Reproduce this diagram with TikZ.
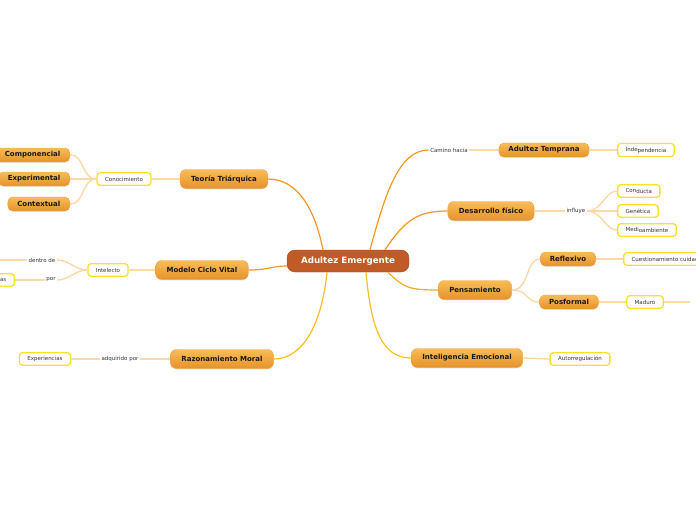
\documentclass[tikz,border=0pt]{standalone}
\usepackage{fontspec}
\setmainfont{DejaVu Sans}
\usetikzlibrary{positioning,shadows}
\definecolor{centerfill}{HTML}{C05A26}
\definecolor{topiclight}{HTML}{F8BC58}
\definecolor{topicdark}{HTML}{E5922A}
\definecolor{topicedge}{HTML}{F0A040}
\definecolor{leafyellow}{HTML}{FBE02A}
\definecolor{textgray}{HTML}{333333}
\definecolor{branchorange}{HTML}{F7961E}
\definecolor{branchyellow}{HTML}{FBBD26}
\definecolor{twigorange}{HTML}{FCD8A8}

\begin{document}
\begin{tikzpicture}[x=1pt, y=-1pt,
    central/.style={rectangle, rounded corners=8pt, fill=centerfill, draw=centerfill!85!black,
        text=white, font=\fontsize{8.7}{10}\selectfont\bfseries,
        minimum width=122pt, minimum height=22pt},
    topic/.style={rectangle, rounded corners=6pt, draw=topicedge, top color=topiclight,
        bottom color=topicdark, font=\fontsize{7}{8}\selectfont\bfseries, text=black!90,
        minimum height=19pt, inner xsep=11pt,
        drop shadow={opacity=0.15, shadow xshift=0pt, shadow yshift=-1pt}},
    subtopic/.style={topic, minimum height=14pt, rounded corners=5pt, inner xsep=9.5pt},
    leaf/.style={rectangle, rounded corners=3pt, draw=leafyellow, line width=1.3pt, fill=white,
        font=\fontsize{5.5}{6.5}\selectfont, text=textgray, minimum height=12.5pt, inner xsep=8pt},
    tag/.style={font=\fontsize{5.5}{6.5}\selectfont, text=textgray, inner sep=1.5pt},
    mainline/.style={line width=1.2pt, draw=branchorange},
    yellowline/.style={line width=1.2pt, draw=branchyellow},
    twig/.style={line width=1.4pt, draw=twigorange}
]
    \useasboundingbox (0,0) rectangle (696,520);
    \clip (0,0) rectangle (696,520);

    % centre
    \node[central] (adultez) at (348,261) {Adultez Emergente};

    % left side
    \node[topic] (teoria) at (224,179) {Teoría Triárquica};
    \node[leaf] (conoc) at (124,179) {Conocimiento};
    \node[subtopic, anchor=east] (compon) at (70,155) {Componencial};
    \node[subtopic, anchor=east] (experim) at (70,179) {Experimental};
    \node[subtopic, anchor=east] (context) at (70,204) {Contextual};

    \node[topic] (modelo) at (202,270) {Modelo Ciclo Vital};
    \node[leaf] (intelecto) at (108,270) {Intelecto};
    \node[tag] (dentro) at (42,260) {dentro de};
    \node[tag] (por) at (51,280) {por};
    \node[leaf, anchor=east] (etapas) at (15,280) {Etapas};
    \coordinate (dentroend) at (-10,260);

    \node[topic] (razon) at (222,359) {Razonamiento Moral};
    \node[tag] (adquirido) at (120,359) {adquirido por};
    \node[leaf] (experien) at (45,359) {Experiencias};

    % right side
    \node[tag] (camino) at (449,150) {Camino hacia};
    \node[subtopic] (temprana) at (544,150) {Adultez Temprana};
    \node[leaf, anchor=west] (indep) at (617,150) {Inde\raisebox{-1pt}{pendencia}};

    \node[topic] (desarrollo) at (491,211) {Desarrollo físico};
    \node[tag] (influye) at (576,211) {influye};
    \node[leaf, anchor=west] (conducta) at (617,191) {Con\raisebox{-1pt}{ducta}};
    \node[leaf, anchor=west] (genetica) at (617,211) {Genética};
    \node[leaf, anchor=west] (medio) at (617,230) {Medi\raisebox{-1pt}{oambiente}};

    \node[topic] (pensam) at (475,290) {Pensamiento};
    \node[subtopic] (reflex) at (568,259) {Reflexivo};
    \node[leaf, anchor=west] (cuestion) at (623,259) {Cuestionamiento cuidadoso};
    \node[subtopic] (posformal) at (569,302) {Posformal};
    \node[leaf] (maduro) at (645,302) {Maduro};
    \coordinate (madurend) at (690,302);

    \node[topic] (intelig) at (467,358) {Inteligencia Emocional};
    \node[leaf] (autorreg) at (580,359) {Autorregulación};

    % main branches
    \draw[mainline] (teoria.east) .. controls +(30,0) and +(-8,-40) .. ([xshift=-25pt]adultez.north);
    \draw[mainline] (modelo.east) .. controls +(20,0) and +(-15,0) .. ([yshift=-5pt]adultez.west);
    \draw[yellowline] (razon.east) .. controls +(30,0) and +(-5,50) .. ([xshift=-21pt]adultez.south);
    \draw[mainline] ([xshift=22pt]adultez.north) .. controls +(15,-55) and +(-30,0) .. (camino.west);
    \draw[mainline] ([xshift=37pt]adultez.north) .. controls +(20,-30) and +(-30,0) .. (desarrollo.west);
    \draw[mainline, draw=branchorange!60!branchyellow] ([xshift=40pt]adultez.south) .. controls +(15,15) and +(-30,0) .. (pensam.west);
    \draw[yellowline] ([xshift=18pt]adultez.south) .. controls +(5,55) and +(-30,0) .. (intelig.west);

    % twigs
    \draw[twig] (teoria.west) -- (conoc.east);
    \draw[twig] (conoc.west) .. controls +(-15,0) and +(15,0) .. (compon.east);
    \draw[twig] (conoc.west) -- (experim.east);
    \draw[twig] (conoc.west) .. controls +(-15,0) and +(15,0) .. (context.east);
    \draw[twig] (modelo.west) -- (intelecto.east);
    \draw[twig] (intelecto.west) .. controls +(-12,0) and +(12,0) .. (dentro.east);
    \draw[twig] (intelecto.west) .. controls +(-12,0) and +(12,0) .. (por.east);
    \draw[twig] (dentro.west) -- (dentroend);
    \draw[twig] (por.west) -- (etapas.east);
    \draw[twig] (razon.west) -- (adquirido.east);
    \draw[twig] (adquirido.west) -- (experien.east);
    \draw[twig] (camino.east) -- (temprana.west);
    \draw[twig] (temprana.east) -- (indep.west);
    \draw[twig] (desarrollo.east) -- (influye.west);
    \draw[twig] (influye.east) .. controls +(15,0) and +(-12,0) .. (conducta.west);
    \draw[twig] (influye.east) -- (genetica.west);
    \draw[twig] (influye.east) .. controls +(15,0) and +(-12,0) .. (medio.west);
    \draw[twig] (pensam.east) .. controls +(18,0) and +(-15,0) .. (reflex.west);
    \draw[twig] (pensam.east) .. controls +(18,0) and +(-15,0) .. (posformal.west);
    \draw[twig] (reflex.east) -- (cuestion.west);
    \draw[twig] (posformal.east) -- (maduro.west);
    \draw[twig] (maduro.east) -- (madurend);
    \draw[twig] (intelig.east) -- (autorreg.west);
\end{tikzpicture}
\end{document}
